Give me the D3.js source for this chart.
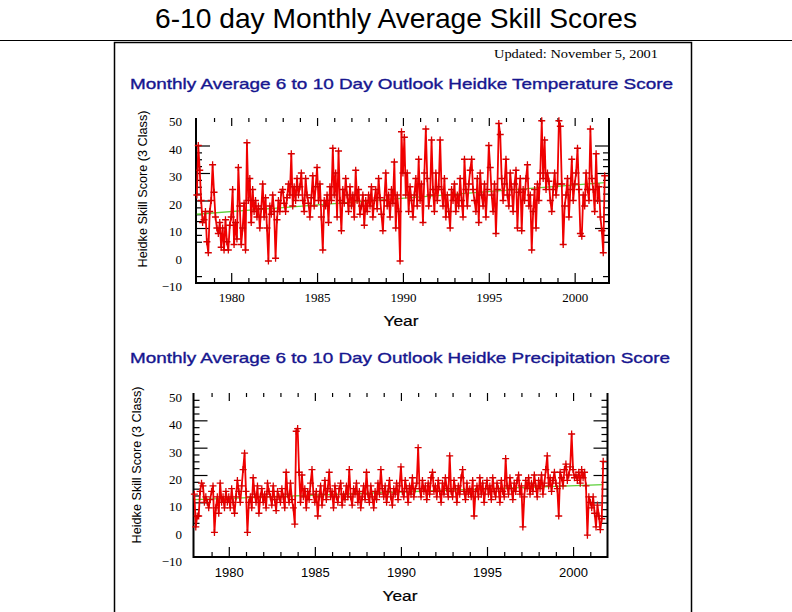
<!DOCTYPE html>
<html><head><meta charset="utf-8">
<script src="https://cdn.jsdelivr.net/npm/d3@7"></script>
<style>body{margin:0;background:#fff}svg{display:block}</style>
</head><body><svg id="c" width="792" height="612"></svg>
<script>
const pageTitle = "6-10 day Monthly Average Skill Scores";
const updatedText = "Updated: November 5, 2001";
const tempTitle = "Monthly Average 6 to 10 Day Outlook Heidke Temperature Score";
const precTitle = "Monthly Average 6 to 10 Day Outlook Heidke Precipitation Score";
const yAxisTitle = "Heidke Skill Score (3 Class)";
const xAxisTitle = "Year";
const startYear = 1978;           // first month = January 1978, monthly values
const yearLabels = [1980, 1985, 1990, 1995, 2000];
const yearTicks = [1979,1980,1981,1982,1983,1984,1985,1986,1987,1988,1989,1990,1991,1992,1993,1994,1995,1996,1997,1998,1999,2000,2001];
const yLabels = [-10, 0, 10, 20, 30, 40, 50];
const yMajorTicks = [10, 20, 30, 40];
const tempMinorTicks = [-7.5, 5, 7.5, 12.5, 15, 17.5, 22.5, 25, 27.5, 32.5, 35, 37.5];
const precMinorTicks = [2.5, 5, 7.5, 12.5, 15, 17.5, 22.5, 25, 27.5, 32.5, 35, 37.5, 42.5, 45, 47.5];

// Monthly Heidke temperature scores, Jan 1978 - Oct 2001
const tempValues = [
  22, 40, 31, 20, 12, 13, 16, 5, 1, 16, 20, 33,
  23, 14, 10, 8, 12, 3, 10, 2, 13, 5, 2, 11,
  14, 24, 4, 12, 6, 32, 18, 4, 10, 19, 2, 41,
  20, 28, 12, 24, 16, 20, 14, 18, 10, 17, 26, 14,
  21, 10, -2, 18, 15, 22, 16, -1, 13, 20, 16, 23,
  24, 19, 16, 21, 26, 22, 37, 18, 25, 20, 28, 22,
  25, 30, 20, 16, 28, 22, 19, 14, 21, 29, 18, 25,
  32, 20, 26, 14, 2, 20, 18, 22, 12, 25, 20, 39,
  22, 30, 14, 38, 20, 9, 24, 19, 28, 22, 16, 25,
  18, 22, 14, 31, 20, 24, 15, 18, 22, 11, 20, 16,
  22, 18, 25, 14, 20, 24, 17, 28, 21, 15, 9, 20,
  30, 18, 22, 14, 24, 19, 34, 10, 22, 16, -2, 45,
  30, 43, 22, 30, 16, 25, 20, 14, 22, 28, 18, 35,
  20, 26, 12, 30, 46, 28, 18, 22, 42, 24, 16, 30,
  20, 25, 42, 24, 18, 28, 14, 22, 16, 10, 24, 20,
  26, 16, 22, 18, 28, 20, 14, 35, 24, 18, 26, 31,
  35, 24, 20, 16, 28, 12, 30, 22, 18, 26, 14, 24,
  40, 32, 22, 16, 26, 8, 24, 48, 44, 28, 20, 26,
  35, 22, 18, 30, 24, 16, 26, 31, 10, 23, 28, 9,
  24, 20, 28, 33, 18, 22, 2, 16, 24, 10, 26, 20,
  30, 49, 28, 42, 24, 30, 27, 20, 16, 24, 30, 22,
  26, 49, 47, 26, 4, 18, 22, 28, 14, 24, 35, 20,
  26, 30, 39, 24, 8, 7, 22, 18, 30, 24, 20, 46,
  28, 24, 16, 37, 20, 25, 14, 9, 1, 29
];
// Monthly Heidke precipitation scores, Jan 1978 - Oct 2001
const precValues = [
  13, 1, 5, 5, 14, 17, 16, 10, 12, 10, 8, 11,
  14, 16, -1, 8, 12, 6, 17, 10, 12, 8, 14, 10,
  12, 8, 15, 10, 6, 12, 18, 14, 10, 16, 22, 28,
  14, -1, 10, 12, 8, 19, 13, 10, 16, 6, 12, 15,
  10, 13, 8, 17, 14, 12, 9, 16, 11, 7, 14, 12,
  10, 15, 12, 8, 21, 13, 10, 17, 11, 8, 2, 36,
  37, 21, 10, 20, 12, 15, 8, 14, 11, 17, 22, 13,
  10, 14, 5, 12, 16, 9, 13, 18, 11, 15, 21, 12,
  14, 8, 16, 12, 10, 15, 17, 9, 13, 11, 16, 12,
  22, 12, 9, 15, 13, 17, 10, 14, 8, 12, 16, 11,
  21, 13, 10, 16, 12, 8, 14, 11, 17, 13, 22, 15,
  12, 16, 10, 14, 18, 12, 9, 15, 13, 17, 11, 16,
  23, 14, 12, 18, 15, 10, 16, 13, 19, 12, 15, 17,
  30, 15, 12, 18, 14, 16, 11, 17, 13, 19, 21, 14,
  16, 12, 18, 14, 10, 17, 13, 19, 15, 12, 27, 14,
  12, 18, 15, 10, 16, 13, 19, 22, 14, 11, 17, 13,
  15, 12, 18, 5, 14, 16, 12, 19, 13, 17, 10, 15,
  18, 13, 16, 11, 19, 14, 12, 17, 15, 10, 18, 14,
  12, 26, 16, 13, 19, 15, 11, 17, 14, 18, 20, 13,
  16, 1, 12, 18, 15, 19, 13, 17, 14, 20, 16, 12,
  18, 15, 20, 13, 17, 22, 27, 16, 19, 14, 18, 21,
  17, 15, 5, 21, 19, 16, 22, 24, 18, 20, 23, 35,
  22, 19, 20, 18, 21, 17, 22, 19, 21, 16, -2, 12,
  10, 8, 12, 6, 1, 9, 5, 0, 4, 25
];
// Linear trend (green) at first and last month
const tempTrend = [15, 26.5];
const precTrend = [11, 16.5];

const svg = d3.select("#c");
const SANS = "'Liberation Sans', Arial, sans-serif";
const SERIF = "'Liberation Serif', 'Times New Roman', serif";

// page header
svg.append("text").attr("x", 396).attr("y", 28).attr("text-anchor", "middle")
  .attr("font-family", SANS).attr("font-size", 28).attr("textLength", 482)
  .attr("lengthAdjust", "spacingAndGlyphs").text(pageTitle);
svg.append("line").attr("x1", 0).attr("x2", 792).attr("y1", 40.5).attr("y2", 40.5)
  .attr("stroke", "#000").attr("stroke-width", 1.2);
svg.append("path").attr("d", "M114.5,612V42.5H691.5V612").attr("fill", "none")
  .attr("stroke", "#000").attr("stroke-width", 1.5);
svg.append("text").attr("x", 658).attr("y", 58).attr("text-anchor", "end")
  .attr("font-family", SERIF).attr("font-size", 12.5).attr("textLength", 164)
  .attr("lengthAdjust", "spacingAndGlyphs").text(updatedText);

function drawChart(cfg) {
  const months = cfg.values.map((v, i) => ({ t: startYear + i / 12, v }));
  const x = d3.scaleLinear().domain([1977.95, 2002.0]).range([cfg.left, cfg.right]);
  const y = d3.scaleLinear().domain([-10, 50]).range([cfg.bottom, cfg.top]);
  const g = svg.append("g");

  g.append("text").attr("x", 130).attr("y", cfg.titleY)
    .attr("font-family", SANS).attr("font-size", 15).attr("fill", "#16168f")
    .attr("stroke", "#16168f").attr("stroke-width", 0.35)
    .attr("textLength", cfg.titleLen).attr("lengthAdjust", "spacingAndGlyphs").text(cfg.title);

  g.append("text").attr("transform", `translate(${cfg.yTitleX},${cfg.yTitleY}) rotate(-90)`)
    .attr("text-anchor", "middle").attr("font-family", SANS).attr("font-size", 13)
    .attr("textLength", 157).attr("lengthAdjust", "spacingAndGlyphs")
    .text(yAxisTitle);
  g.append("text").attr("x", cfg.xTitleX).attr("y", cfg.xTitleY).attr("text-anchor", "middle")
    .attr("font-family", SANS).attr("font-size", 15).attr("stroke", "#000").attr("stroke-width", 0.2)
    .attr("textLength", 35).attr("lengthAdjust", "spacingAndGlyphs").text(xAxisTitle);

  const clean = s => s.select(".domain").remove();
  const tickStyle = s => s.selectAll("line").attr("stroke", "#000").attr("stroke-width", 1.2);
  // y ticks: inward on left and right
  [[d3.axisLeft, cfg.left, -14, yMajorTicks], [d3.axisLeft, cfg.left, -6, cfg.minor],
   [d3.axisRight, cfg.right, -14, yMajorTicks], [d3.axisRight, cfg.right, -6, cfg.minor]]
   .forEach(([ax, px, size, vals]) => {
     g.append("g").attr("transform", `translate(${px},0)`)
       .call(ax(y).tickValues(vals).tickSize(size).tickFormat(""))
       .call(clean).call(tickStyle);
   });
  // x ticks: bottom (up) and top (down)
  const majorYears = yearTicks.filter(d => d % 5 === 0);
  const minorYears = yearTicks.filter(d => d % 5 !== 0);
  [[d3.axisBottom, cfg.bottom, -10, majorYears], [d3.axisBottom, cfg.bottom, -5, minorYears],
   [d3.axisTop, cfg.top, -8, majorYears], [d3.axisTop, cfg.top, -4, minorYears]]
   .forEach(([ax, py, size, vals]) => {
     g.append("g").attr("transform", `translate(0,${py})`)
       .call(ax(x).tickValues(vals).tickSize(size).tickFormat(""))
       .call(clean).call(tickStyle);
   });
  // y labels
  const yl = g.append("g").attr("transform", `translate(${cfg.left},${cfg.labelShift})`)
    .call(d3.axisLeft(y).tickValues(yLabels).tickSize(0).tickPadding(cfg.left - 182))
    .call(clean);
  yl.attr("font-family", SERIF).attr("font-size", 13);
  yl.selectAll("text").attr("fill", "#000");
  // x labels
  const xl = g.append("g").attr("transform", `translate(0,${cfg.bottom})`)
    .call(d3.axisBottom(x).tickValues(yearLabels).tickSize(0).tickFormat(d3.format("d")))
    .call(clean);
  xl.attr("font-family", cfg.yearFont).attr("font-size", 13);
  xl.selectAll("text").attr("fill", "#000").attr("dy", null).attr("y", cfg.yearDy);

  // axis frame: left, bottom, right (no top line)
  g.append("path")
    .attr("d", `M${cfg.left},${cfg.top}V${cfg.bottom}H${cfg.right}V${cfg.top}`)
    .attr("fill", "none").attr("stroke", "#000").attr("stroke-width", 2);

  // trend
  const first = months[0].t, last = months[months.length - 1].t;
  g.append("line").attr("x1", x(first)).attr("x2", x(last))
    .attr("y1", y(cfg.trend[0])).attr("y2", y(cfg.trend[1]))
    .attr("stroke", "#5ccf3a").attr("stroke-width", 1.3);

  // data line
  g.append("path").datum(months)
    .attr("d", d3.line().x(d => x(d.t)).y(d => y(d.v)))
    .attr("fill", "none").attr("stroke", "#f00000").attr("stroke-width", 1.8)
    .attr("stroke-linejoin", "round");
  // + markers
  g.append("g").selectAll("path").data(months).join("path")
    .attr("transform", d => `translate(${x(d.t)},${y(d.v)})`)
    .attr("d", "M-3.5,0H3.5M0,-3.5V3.5")
    .attr("stroke", "#d80000").attr("stroke-width", 1.3);
}

drawChart({
  values: tempValues, trend: tempTrend, title: tempTitle, titleY: 89, titleLen: 543,
  left: 196, right: 609, top: 118, bottom: 283, minor: tempMinorTicks, labelShift: 3.5,
  yTitleX: 147, yTitleY: 189, xTitleX: 401, xTitleY: 326, yearFont: SERIF, yearDy: 19
});
drawChart({
  values: precValues, trend: precTrend, title: precTitle, titleY: 363, titleLen: 540,
  left: 193.5, right: 607.5, top: 393, bottom: 557, minor: precMinorTicks, labelShift: 4.3,
  yTitleX: 141, yTitleY: 465, xTitleX: 400, xTitleY: 601, yearFont: SANS, yearDy: 20
});
</script></body></html>
